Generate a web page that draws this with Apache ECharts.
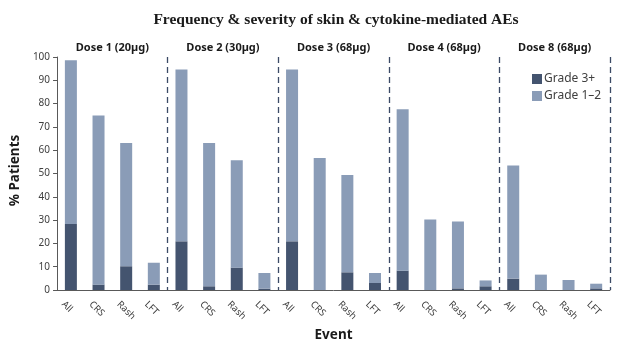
<!DOCTYPE html>
<html>
<head>
<meta charset="utf-8">
<script src="https://cdn.jsdelivr.net/npm/echarts@6/dist/echarts.min.js"></script>
<style>
  html, body { margin: 0; padding: 0; background: #fff; }
  #chart { width: 622px; height: 353px; }
</style>
</head>
<body>
<div id="chart"></div>
<script>
// 数据
var doses = ['Dose 1 (20µg)', 'Dose 2 (30µg)', 'Dose 3 (68µg)', 'Dose 4 (68µg)', 'Dose 8 (68µg)'];
var events = ['All', 'CRS', 'Rash', 'LFT', 'All', 'CRS', 'Rash', 'LFT', 'All', 'CRS', 'Rash', 'LFT',
  'All', 'CRS', 'Rash', 'LFT', 'All', 'CRS', 'Rash', 'LFT'];
var grade3 = [28.3, 2.3, 10.2, 2.3, 20.9, 1.6, 9.6, 0.6, 20.9, 0, 7.6, 3.0, 8.3, 0, 0.7, 1.6, 4.9, 0, 0, 0.7];
var grade12 = [70.3, 72.6, 52.9, 9.4, 73.7, 61.5, 46.1, 6.7, 73.7, 56.6, 41.8, 4.3, 69.3, 30.3, 28.7, 2.5, 48.5, 6.6, 4.3, 2.0];
var yTicks = [0, 100, 10]; // min, max, interval

var darkColor = '#44546f';
var lightColor = '#8a9cb7';
var axisColor = '#595959';

function getOption() {
  var option = {
    animation: false,
    title: {
      text: 'Frequency & severity of skin & cytokine-mediated AEs',
      left: 331,
      textAlign: 'center',
      top: 7,
      textStyle: {
        fontFamily: 'Liberation Serif',
        fontWeight: 'bold',
        fontSize: 15.5,
        color: '#1a1a1a'
      }
    },
    legend: {
      orient: 'vertical',
      left: 527,
      top: 68,
      itemWidth: 10,
      itemHeight: 10,
      itemGap: 5,
      icon: 'rect',
      textStyle: {
        fontFamily: 'Noto Sans',
        fontSize: 12,
        color: '#404040',
        padding: [0, 0, 0, -3]
      },
      data: ['Grade 3+', 'Grade 1–2']
    },
    grid: {
      left: 52,
      right: 12,
      top: 57,
      bottom: 63
    },
    xAxis: [
      {
        type: 'category',
        data: events,
        axisLine: { lineStyle: { color: axisColor } },
        axisTick: { alignWithLabel: true, length: 4, lineStyle: { color: axisColor } },
        axisLabel: {
          interval: 0,
          rotate: -45,
          margin: 5,
          verticalAlign: 'top',
          padding: [6, 0, 0, 0],
          fontFamily: 'Noto Sans',
          fontSize: 9.5,
          color: '#404040'
        },
        name: 'Event',
        nameLocation: 'middle',
        nameGap: 34,
        nameTextStyle: {
          fontFamily: 'Noto Sans',
          fontWeight: 'bold',
          fontSize: 13.5,
          color: '#1a1a1a'
        }
      },
      /* 剂量标签 */
      {
        type: 'category',
        position: 'top',
        data: doses,
        axisLine: { show: false },
        axisTick: { show: false },
        axisLabel: {
          margin: 4,
          fontFamily: 'Noto Sans',
          fontWeight: 'bold',
          fontSize: 11,
          color: '#1a1a1a'
        }
      },
      /* 虚线分隔 */
      {
        type: 'value',
        min: 0,
        max: events.length,
        interval: 4,
        axisLine: { show: false },
        axisTick: { show: false },
        axisLabel: { show: false },
        splitLine: {
          show: true,
          showMinLine: false,
          lineStyle: { color: '#3b4a66', type: [6, 4], width: 1.3 }
        }
      }
    ],
    yAxis: {
      type: 'value',
      min: yTicks[0],
      max: yTicks[1],
      interval: yTicks[2],
      axisLine: { show: true, lineStyle: { color: axisColor } },
      axisTick: { show: true, length: 4, lineStyle: { color: axisColor } },
      splitLine: { show: false },
      axisLabel: {
        margin: 7,
        fontFamily: 'Noto Sans',
        fontSize: 10,
        color: '#404040'
      },
      name: '% Patients',
      nameLocation: 'middle',
      nameGap: 23,
      nameTextStyle: {
        fontFamily: 'Noto Sans',
        fontWeight: 'bold',
        fontSize: 13.5,
        color: '#1a1a1a',
        padding: [0, 0, 0, 6]
      }
    },
    series: [
      {
        name: 'Grade 3+',
        type: 'bar',
        stack: 'ae',
        barWidth: 12,
        itemStyle: { color: darkColor },
        data: grade3
      },
      {
        name: 'Grade 1–2',
        type: 'bar',
        stack: 'ae',
        barWidth: 12,
        itemStyle: { color: lightColor },
        data: grade12
      }
    ]
  };
  return option;
}

var chart = echarts.init(document.getElementById('chart'));
chart.setOption(getOption());
</script>
</body>
</html>
